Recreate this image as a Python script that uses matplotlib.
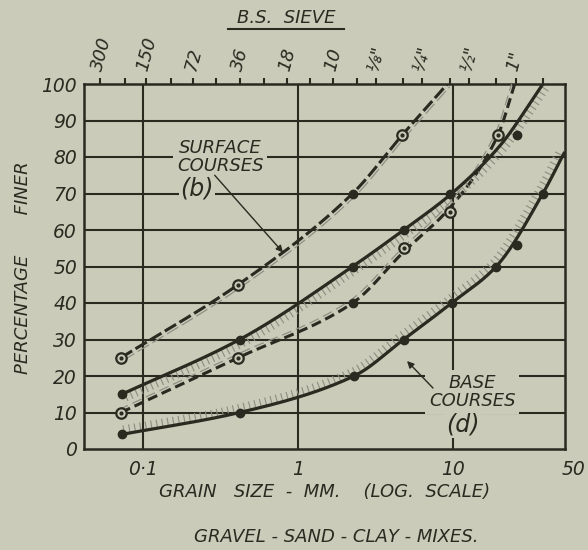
import numpy as np
import matplotlib
matplotlib.use("Agg")
import matplotlib.pyplot as plt
from matplotlib import patheffects as pe
from matplotlib.lines import Line2D
from matplotlib.ticker import NullLocator

# ---- grading curves: grain size (mm) vs percentage finer ----
SURF_FINE_MM = [0.072, 0.41, 2.25, 4.7, 9.2]
SURF_FINE_PCT = [25, 45, 70, 86, 100]
SURF_COARSE_MM = [0.072, 0.41, 2.25, 4.8, 9.5, 19.5, 25.0]
SURF_COARSE_PCT = [10, 25, 40, 54, 66, 86, 100]
BASE_FINE_MM = [0.073, 0.42, 2.25, 4.8, 9.8, 20.0, 38.0]
BASE_FINE_PCT = [15, 30, 50, 60, 70, 83, 100]
BASE_COARSE_MM = [0.073, 0.42, 2.3, 4.8, 9.8, 19.0, 38.0, 52.0]
BASE_COARSE_PCT = [4, 10, 20, 30, 40, 50, 70, 81]

# ---- plotted test results ----
OPEN_MM = [0.072, 0.41, 4.7, 0.072, 0.41, 4.8, 9.5, 19.5]
OPEN_PCT = [25, 45, 86, 10, 25, 55, 65, 86]
SOLID_MM = [2.25, 0.073, 0.42, 2.25, 4.8, 9.5, 26.0, 2.25,
            0.073, 0.42, 2.3, 4.8, 9.8, 19.0, 38.0, 26.0]
SOLID_PCT = [70, 15, 30, 50, 60, 70, 86, 40,
             4, 10, 20, 30, 40, 50, 70, 56]

# ---- B.S. sieve apertures (mm) ----
SIEVE_MM = [0.053, 0.076, 0.104, 0.152, 0.211, 0.295, 0.422, 0.599, 0.853,
            1.20, 1.68, 2.41, 3.175, 4.76, 6.35, 9.52, 12.7, 19.05, 25.4, 38.1]
SIEVE_LABELS = ['300', '', '150', '', '72', '', '36', '', '18', '',
                '10', '', '⅛"', '', '¼"', '', '½"', '', '1"', '']

Y_TICKS = list(range(0, 101, 10))
X_TICKS = [0.1, 1, 10, 50]
X_TICK_LABELS = ['0·1', '1', '10', '50']

BG = '#cacbb9'
INK = '#2a2a20'
HATCH = '#8b8d80'
FAINT = '#8e9083'
FONT = dict(family='DejaVu Sans', style='italic', color=INK)


def pchip(xk, yk, xs):
    """Monotone piecewise cubic through the knots (Fritsch-Carlson)."""
    xk = np.asarray(xk, float)
    yk = np.asarray(yk, float)
    h = np.diff(xk)
    delta = np.diff(yk) / h
    n = len(xk)
    m = np.empty(n)
    m[0], m[-1] = delta[0], delta[-1]
    for k in range(1, n - 1):
        if delta[k - 1] * delta[k] <= 0:
            m[k] = 0.0
        else:
            w1 = 2 * h[k] + h[k - 1]
            w2 = h[k] + 2 * h[k - 1]
            m[k] = (w1 + w2) / (w1 / delta[k - 1] + w2 / delta[k])
    i = np.clip(np.searchsorted(xk, xs, side='right') - 1, 0, n - 2)
    t = (xs - xk[i]) / h[i]
    h00 = 2 * t**3 - 3 * t**2 + 1
    h10 = t**3 - 2 * t**2 + t
    h01 = -2 * t**3 + 3 * t**2
    h11 = t**3 - t**2
    return h00 * yk[i] + h10 * h[i] * m[i] + h01 * yk[i + 1] + h11 * h[i] * m[i + 1]


def smooth(mm, pct, n=300):
    lk = np.log10(mm)
    ls = np.linspace(lk[0], lk[-1], n)
    return 10**ls, pchip(lk, pct, ls)


fig = plt.figure(figsize=(5.88, 5.5), dpi=100, facecolor=BG)
ax = fig.add_axes([84 / 588, 1 - 449 / 550, (565 - 84) / 588, (449 - 84) / 550])
ax.set_facecolor(BG)
ax.set_xscale('log')
ax.set_xlim(0.0416, 52.8)
ax.set_ylim(0, 100)

for s in ax.spines.values():
    s.set_color(INK)
    s.set_linewidth(1.8)

# grid
for v in Y_TICKS[1:-1]:
    ax.axhline(v, color=INK, lw=1.5, zorder=1)
for v in X_TICKS[:-1]:
    ax.axvline(v, color=INK, lw=1.5, zorder=1)

ax.set_yticks(Y_TICKS)
ax.set_yticklabels([str(v) for v in Y_TICKS], fontsize=13.5, **FONT)
ax.set_xticks(X_TICKS)
ax.set_xticklabels(X_TICK_LABELS, fontsize=13.5, **FONT)
ax.xaxis.set_minor_locator(NullLocator())
ax.tick_params(axis='y', length=0, pad=5)
ax.tick_params(axis='x', length=0, pad=8)
ax.get_xticklabels()[-1].set_ha('left')

# sieve scale along the top
sec = ax.secondary_xaxis('top')
sec.set_xticks(SIEVE_MM)
sec.set_xticklabels([])
sec.xaxis.set_minor_locator(NullLocator())
sec.tick_params(length=4, width=1.5, color=INK, direction='out')
sec.spines['top'].set_visible(False)
for x, lbl in zip(SIEVE_MM, SIEVE_LABELS):
    if lbl:
        ax.annotate(lbl, xy=(x, 1), xycoords=('data', 'axes fraction'),
                    xytext=(-3, 13), textcoords='offset pixels',
                    rotation=75, rotation_mode='anchor', ha='left', va='center',
                    fontsize=13, annotation_clip=False, **FONT)

# surface courses (dashed envelope)
x, y = smooth(SURF_FINE_MM, SURF_FINE_PCT)
ax.plot(x, y, color=INK, lw=2.2, dashes=(4.3, 1.3), zorder=3,
        path_effects=[pe.Stroke(offset=(1.6, -2.0), linewidth=0.9, foreground=FAINT),
                      pe.Normal()])
surf_fine_x, surf_fine_y = x, y
x, y = smooth(SURF_COARSE_MM, SURF_COARSE_PCT)
ax.plot(x, y, color=INK, lw=2.2, dashes=(3.3, 1.6), zorder=3,
        path_effects=[pe.Stroke(offset=(-1.6, 2.0), linewidth=0.9, foreground=FAINT),
                      pe.Normal()])

# base courses (hatched envelope)
x, y = smooth(BASE_FINE_MM, BASE_FINE_PCT)
ax.plot(x, y, color=INK, lw=2.3, zorder=3,
        path_effects=[pe.withTickedStroke(angle=-90, spacing=4.0, length=1.45,
                                          foreground=HATCH, linewidth=0.8)])
x, y = smooth(BASE_COARSE_MM, BASE_COARSE_PCT)
ax.plot(x, y, color=INK, lw=2.3, zorder=3,
        path_effects=[pe.withTickedStroke(angle=90, spacing=4.0, length=1.45,
                                          foreground=HATCH, linewidth=0.8)])

# test points
ax.plot(SOLID_MM, SOLID_PCT, 'o', ms=6, color=INK, zorder=5, clip_on=False)
ax.plot(OPEN_MM, OPEN_PCT, 'o', ms=7.5, mfc=BG, mec=INK, mew=1.6, zorder=5)
ax.plot(OPEN_MM, OPEN_PCT, 'o', ms=2, color=INK, zorder=6)

# labels with leaders
box = dict(boxstyle='square,pad=0.2', fc=BG, ec='none')
ax.text(0.314, 80, 'SURFACE\nCOURSES', ha='center', va='center', fontsize=13,
        linespacing=0.95, bbox=box, zorder=2, **FONT)
ax.text(0.223, 71.5, '(b)', ha='center', va='center', fontsize=17,
        bbox=dict(boxstyle='square,pad=0.05', fc=BG, ec='none'), zorder=2, **FONT)
tip_x = 0.80
tip_y = float(np.interp(np.log10(tip_x), np.log10(surf_fine_x), surf_fine_y))
ax.annotate('', xy=(tip_x, tip_y), xytext=(0.29, 75),
            arrowprops=dict(arrowstyle='-|>', color=INK, lw=1.0,
                            mutation_scale=10, shrinkA=0, shrinkB=0), zorder=4)

ax.text(13.3, 15.6, 'BASE\nCOURSES', ha='center', va='center', fontsize=13,
        linespacing=1.05, bbox=box, zorder=2, **FONT)
ax.text(11.6, 6.6, '(d)', ha='center', va='center', fontsize=17,
        bbox=dict(boxstyle='square,pad=0.05', fc=BG, ec='none'), zorder=2, **FONT)
ax.annotate('', xy=(5.05, 24.1), xytext=(7.43, 16.7),
            arrowprops=dict(arrowstyle='-|>', color=INK, lw=1.0,
                            mutation_scale=10, shrinkA=0, shrinkB=0), zorder=4)

# titles
fig.text(286 / 588, 1 - 18 / 550, 'B.S.  SIEVE', ha='center', va='center',
         fontsize=13, **FONT)
fig.add_artist(Line2D([228 / 588, 344 / 588], [1 - 29 / 550] * 2, color=INK, lw=1.5))
fig.text(23 / 588, 1 - 268 / 550, 'PERCENTAGE       FINER', rotation=90,
         ha='center', va='center', fontsize=13, **FONT)
fig.text(325 / 588, 1 - 492 / 550, 'GRAIN   SIZE  -  MM.    (LOG.  SCALE)',
         ha='center', va='center', fontsize=13, **FONT)
fig.text(336 / 588, 1 - 537 / 550, 'GRAVEL - SAND - CLAY - MIXES.',
         ha='center', va='center', fontsize=13, **FONT)

fig.savefig('out.png', dpi=100, facecolor=BG)
